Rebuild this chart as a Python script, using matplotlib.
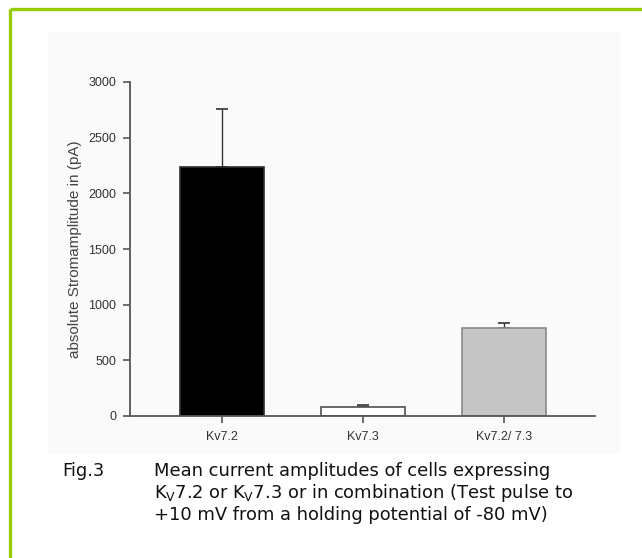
import matplotlib
matplotlib.use("Agg")
import matplotlib.pyplot as plt
from matplotlib.patches import Rectangle

# data
labels = ["Kv7.2", "Kv7.3", "Kv7.2/ 7.3"]
means = [2235, 83, 786]
errors = [520, 18, 45]
colors = ["#000000", "#ffffff", "#c6c6c6"]
edges = ["#303030", "#505050", "#8a8a8a"]
yticks = [0, 500, 1000, 1500, 2000, 2500, 3000]

W, H = 642, 558
fig = plt.figure(figsize=(W / 100, H / 100), dpi=100)
fig.patch.set_facecolor("white")

# light panel behind the chart
fig.patches.append(Rectangle((48 / W, 1 - 454 / H), (620 - 48) / W, (454 - 32) / H,
                             transform=fig.transFigure, facecolor="#fafafa",
                             edgecolor="none", zorder=-5))
# green frame (top and left only visible)
fig.add_artist(plt.Line2D([9.5 / W, 1.0], [1 - 8.5 / H, 1 - 8.5 / H], transform=fig.transFigure,
                          color="#99cc00", lw=2.4, solid_capstyle="butt"))
fig.add_artist(plt.Line2D([9.5 / W, 9.5 / W], [0.0, 1 - 8.5 / H], transform=fig.transFigure,
                          color="#99cc00", lw=2.4, solid_capstyle="butt"))

ax = fig.add_axes([130 / W, 1 - 416 / H, (595 - 130) / W, (416 - 82) / H])
ax.set_zorder(5)
ax.patch.set_alpha(0)

x = range(len(labels))
ax.bar(x, means, width=0.6, color=colors, edgecolor=edges, linewidth=1.2, zorder=2)
ax.errorbar(x, means, yerr=[[0, 0, 0], errors], fmt="none", ecolor="#333333",
            elinewidth=1.0, capsize=4, capthick=1.2, zorder=1)

ax.set_xlim(-0.652, 2.645)
ax.set_ylim(0, 3000)
ax.set_yticks(yticks)
ax.set_xticks(list(x))
ax.set_xticklabels(labels)
for s in ["top", "right"]:
    ax.spines[s].set_visible(False)
for s in ["left", "bottom"]:
    ax.spines[s].set_color("#555555")
    ax.spines[s].set_linewidth(1.3)
ax.tick_params(axis="both", colors="#555555", length=5, width=1.2, labelsize=9,
               labelcolor="#333333")
ax.tick_params(axis="y", pad=5)
ax.tick_params(axis="x", pad=6)
for lab in ax.get_xticklabels() + ax.get_yticklabels():
    lab.set_fontfamily("Liberation Sans")
ax.set_ylabel("absolute Stromamplitude in (pA)", fontsize=11, family="Liberation Sans",
              color="#444444")
ax.yaxis.set_label_coords(-55 / (595 - 130), 0.5)
ax.yaxis.label.set_va("center")

# caption
cap = dict(fontsize=12.9, family="DejaVu Sans", color="#111111", va="baseline")
fig.text(62 / W, 1 - 476 / H, "Fig.3", **cap)
fig.text(154 / W, 1 - 476 / H, "Mean current amplitudes of cells expressing", **cap)
fig.text(154 / W, 1 - 498 / H,
         r"K$_\mathregular{V}$7.2 or K$_\mathregular{V}$7.3 or in combination (Test pulse to",
         **cap)
fig.text(154 / W, 1 - 520 / H, "+10 mV from a holding potential of -80 mV)", **cap)

fig.savefig("out.png", dpi=100)
